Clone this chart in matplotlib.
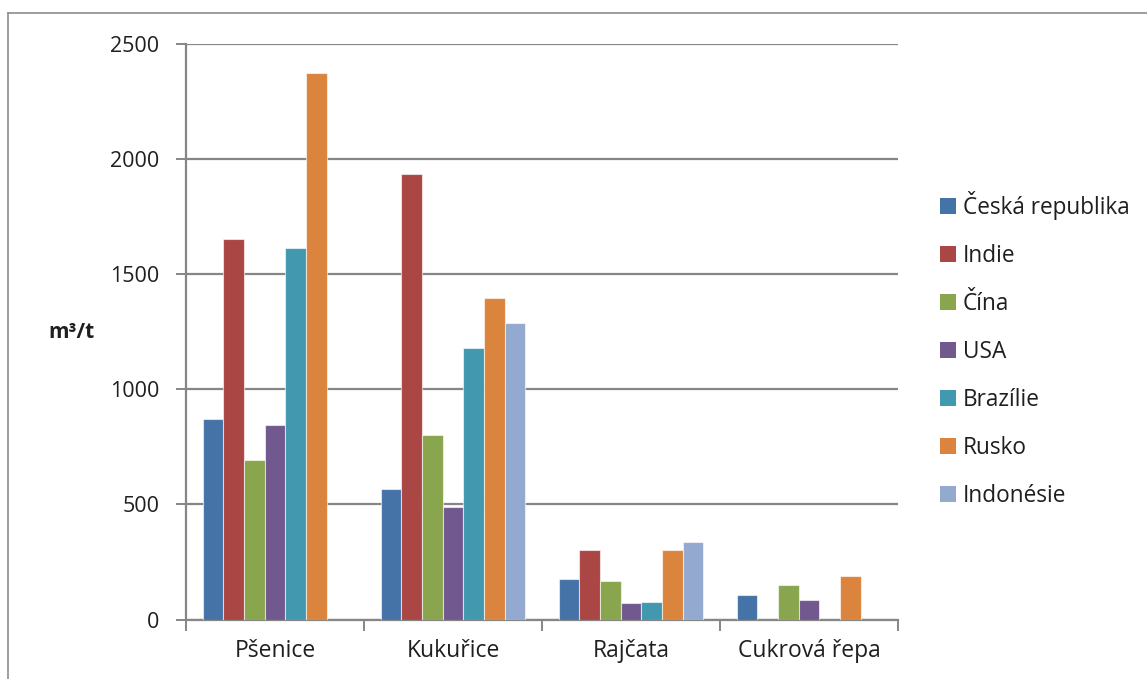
import matplotlib
matplotlib.use("Agg")
import matplotlib.pyplot as plt
import numpy as np
from matplotlib.patches import Rectangle
from matplotlib.lines import Line2D

plt.rcParams['font.family'] = ['Open Sans', 'DejaVu Sans']

categories = ["Pšenice", "Kukuřice", "Rajčata", "Cukrová řepa"]
series_names = ["Česká republika", "Indie", "Čína", "USA", "Brazílie", "Rusko", "Indonésie"]
cz = [869, 565, 176, 106]
indie = [1652, 1935, 302, np.nan]
cina = [691, 801, 167, 148]
usa = [847, 488, 70, 86]
brazilie = [1615, 1178, 75, np.nan]
rusko = [2375, 1397, 302, 187]
indonesie = [np.nan, 1286, 338, np.nan]
series_values = [cz, indie, cina, usa, brazilie, rusko, indonesie]
colors = ["#4572A7", "#AA4643", "#89A54E", "#71588F", "#4198AF", "#DB843D", "#93A9CF"]
yticks = [0, 500, 1000, 1500, 2000, 2500]

W, H = 1147, 679
fig = plt.figure(figsize=(W / 100, H / 100), dpi=100)
ax = fig.add_axes([186 / W, 1 - 619.5 / H, (898 - 186) / W, (619.5 - 44) / H])

text_color = "#1f1f1f"
grid_color = "#868686"

x = np.arange(len(categories))
w = 0.1158
for i, (name, vals, c) in enumerate(zip(series_names, series_values, colors)):
    ax.bar(x + (i - 3) * w, vals, width=w, color=c, edgecolor=(1, 1, 1, 0.6),
           linewidth=0.8, label=name, zorder=3)

ax.set_ylim(0, 2500)
ax.set_xlim(-0.5, len(categories) - 0.5)
ax.set_yticks(yticks)
ax.set_yticklabels([str(t) for t in yticks])
ax.yaxis.grid(True, color=grid_color, linewidth=1.6, zorder=0)
ax.set_axisbelow(True)

ax.set_xticks(x)
ax.set_xticklabels(categories)
ax.set_xticks(np.arange(-0.5, len(categories)), minor=True)
ax.tick_params(axis='x', which='major', length=0, pad=14, labelsize=16.5, labelcolor=text_color)
ax.tick_params(axis='x', which='minor', length=8, width=1.4, color=grid_color, direction='out')
ax.tick_params(axis='y', length=7, width=1.4, color=grid_color, pad=12, labelsize=15.5,
               labelcolor=text_color)

for s in ['top', 'right']:
    ax.spines[s].set_visible(False)
for s in ['left', 'bottom']:
    ax.spines[s].set_color(grid_color)
    ax.spines[s].set_linewidth(1.6)

fig.text(71 / W, 1 - 333 / H, "m³/t", fontsize=15, fontweight='bold', color=text_color,
         ha='center', va='center')

handles = [Rectangle((0, 0), 1, 1, facecolor=c, edgecolor='none') for c in colors]
leg = fig.legend(handles, series_names, loc='upper left',
                 bbox_to_anchor=(940 / W, 1 - 191 / H), frameon=False,
                 fontsize=16.3, handlelength=0.72, handleheight=0.72, handletextpad=0.3,
                 labelspacing=1.06, borderaxespad=0, borderpad=0)
for t in leg.get_texts():
    t.set_color(text_color)

# outer chart border
fig.add_artist(Line2D([8 / W, 8 / W], [0, 1 - 13 / H], transform=fig.transFigure,
                      color="#8c8c8c", linewidth=1.2))
fig.add_artist(Line2D([8 / W, 1], [1 - 13 / H, 1 - 13 / H], transform=fig.transFigure,
                      color="#8c8c8c", linewidth=1.2))

fig.savefig("out.png", dpi=100)
